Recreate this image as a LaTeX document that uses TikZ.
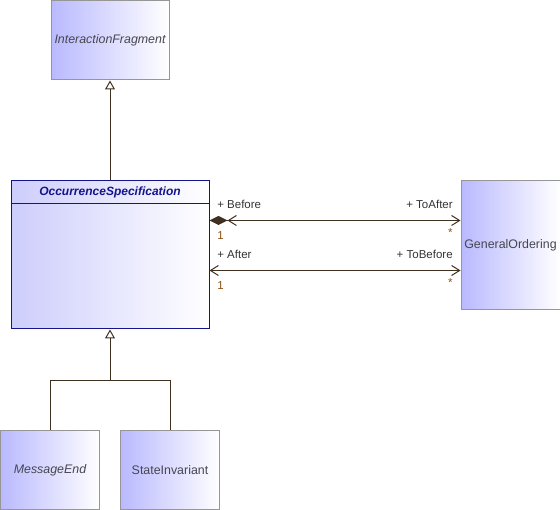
\documentclass[tikz,border=0pt]{standalone}
\usepackage{fontspec}
\setmainfont{Liberation Sans}
\usepackage{xcolor}
\usepackage{tikz}
\usetikzlibrary{positioning,arrows.meta,calc}

\definecolor{clsleft}{RGB}{185,185,255}
\definecolor{occleft}{RGB}{205,205,252}
\definecolor{clsborder}{RGB}{150,150,150}
\definecolor{occborder}{RGB}{20,20,140}
\definecolor{linkcol}{RGB}{64,48,32}
\definecolor{multcol}{RGB}{140,80,20}
\definecolor{txtcol}{RGB}{70,70,80}
\newcommand{\umlfont}{\fontsize{11.5}{14}\selectfont}
\newcommand{\clsfont}{\fontsize{12.4}{14}\selectfont}

\begin{document}
\begin{tikzpicture}[
  x=1pt, y=-1pt,
  line width=1pt,
  cls/.style={rectangle, draw=clsborder, left color=clsleft, right color=white, font=\clsfont, text=txtcol, inner sep=0pt},
  occbox/.style={rectangle, draw=occborder, left color=occleft, right color=white, inner sep=0pt},
  occtitle/.style={font=\fontsize{12}{14}\selectfont\bfseries\itshape, text=occborder, minimum height=22pt, inner sep=0pt},
  link/.style={draw=linkcol},
  gen/.style={link, -{Triangle[open, length=9pt, width=10pt]}},
  assoc/.style={link, {Straight Barb[length=8pt, width=10pt]}-{Straight Barb[length=8pt, width=10pt]}},
  role/.style={font=\umlfont, text=black!80},
  mult/.style={font=\umlfont, text=multcol}
]
\useasboundingbox (0,0) rectangle (560,510);

% abstract occurrence class with its header
\node[occbox, anchor=north west, minimum width=198pt, minimum height=148pt] (occ) at (10.5,180.5) {};
\node[occtitle, below=0pt of occ.north] (occ-title) {OccurrenceSpecification};
\draw[occborder] (occ-title.south -| occ.west) -- (occ-title.south -| occ.east);

% other classes
\node[cls, above=100pt of occ, minimum width=118pt, minimum height=79pt] (frag) {\itshape InteractionFragment};
\node[cls, right=251pt of occ.north east, anchor=north west, minimum width=99pt, minimum height=129pt] (order) {GeneralOrdering};
\node[cls, anchor=north west, minimum width=99pt, minimum height=79pt] (msgend) at (0,430) {\itshape MessageEnd};
\node[cls, right=20pt of msgend, minimum width=99pt, minimum height=79pt] (stateinv) {StateInvariant};

% generalizations
\coordinate[below=51pt of occ.south] (split);
\draw[gen] (occ) -- (frag);
\draw[gen] (msgend) |- (split) -- (occ);
\draw[link] (stateinv) |- (split);

% associations
\draw[assoc, {Diamond[length=18pt, width=9pt] Straight Barb[length=8pt, width=10pt]}-{Straight Barb[length=8pt, width=10pt]}]
  ([yshift=-40pt]occ.north east) -- ([yshift=-40pt]order.north west)
  node[role, pos=0, above right=8pt and 4pt] (before) {+ Before}
  node[mult, pos=0, below right=7pt and 4pt] (before-m) {1}
  node[role, pos=1, above left=8pt and 4pt] (toafter) {+ ToAfter}
  node[mult, pos=1, below left=4.5pt and 4pt] (toafter-m) {*};
\draw[assoc]
  ([yshift=-90pt]occ.north east) -- ([yshift=-90pt]order.north west)
  node[role, pos=0, above right=8pt and 4pt] (after) {+ After}
  node[mult, pos=0, below right=7pt and 4pt] (after-m) {1}
  node[role, pos=1, above left=8pt and 4pt] (tobefore) {+ ToBefore}
  node[mult, pos=1, below left=4.5pt and 4pt] (tobefore-m) {*};

\end{tikzpicture}
\end{document}
